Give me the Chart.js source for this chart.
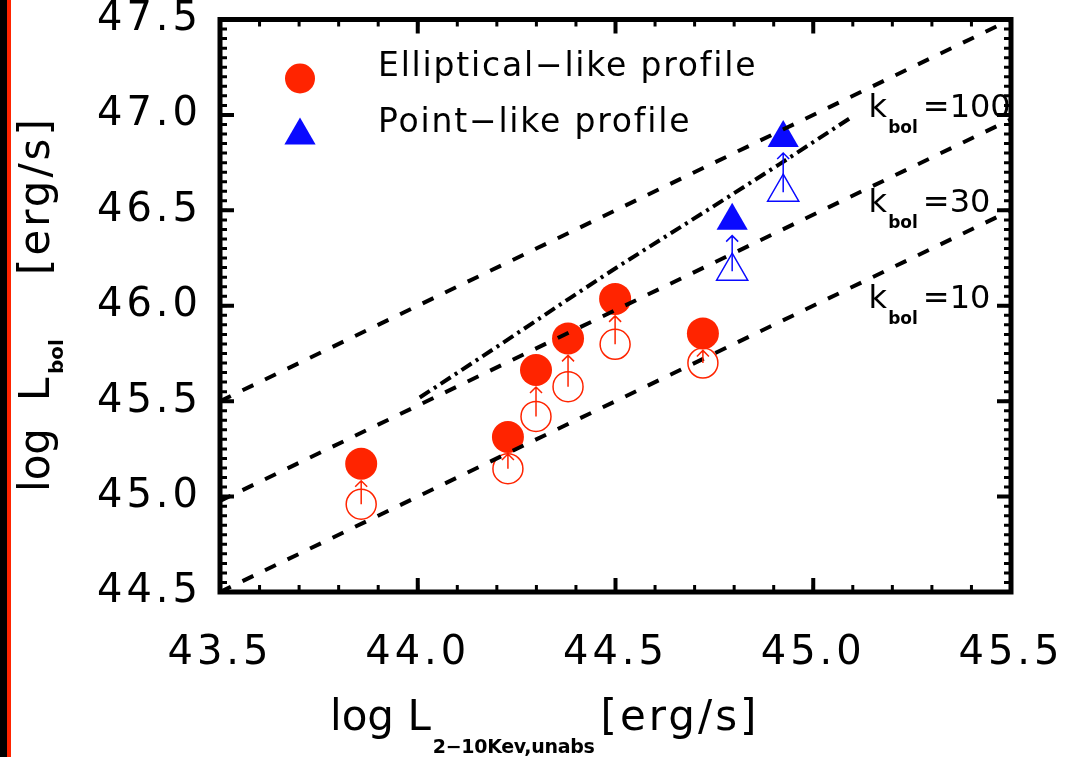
<!DOCTYPE html>
<html>
<head>
<meta charset="utf-8">
<script src="https://cdn.jsdelivr.net/npm/chart.js@4.4.1/dist/chart.umd.min.js"></script>
<style>
  html, body { margin: 0; padding: 0; background: #fff; }
</style>
</head>
<body>
<canvas id="c" width="1066" height="757"></canvas>
<script>
// elliptical-like sources: log L(2-10keV) and log Lbol (filled) / lower value (open)
const ellX = [43.857, 44.228, 44.299, 44.380, 44.499, 44.721];
const ellY = [45.172, 45.312, 45.663, 45.829, 46.036, 45.855];
const ellYLow = [44.960, 45.146, 45.420, 45.576, 45.798, 45.700];

// point-like sources
const ptX = [44.795, 44.924];
const ptY = [46.446, 46.879];
const ptYLow = [46.181, 46.595];

// constant k_bol lines, ends at the x limits
const kbolNames = ["100", "30", "10"];
const kbolLineX = [43.5, 45.5];
const kbol100Y = [45.5, 47.5];
const kbol30Y = [44.977, 46.977];
const kbol10Y = [44.5, 46.5];
const kbolLabelX = 45.14;
const kbolLabelY = [47.0, 46.5, 46.0];

// dash-dot curve
const curveX = [44.005, 44.207, 44.384, 44.510, 44.788, 44.914, 45.098];
const curveY = [45.519, 45.794, 46.039, 46.210, 46.574, 46.741, 46.990];

const xTicks = [43.5, 44.0, 44.5, 45.0, 45.5];
const yTicks = [44.5, 45.0, 45.5, 46.0, 46.5, 47.0, 47.5];
const xMinorStep = 0.1;
const yMinorStep = 0.05;

const red = '#ff2400';
const blue = '#0a0aff';
const FONT = "'DejaVu Sans', sans-serif";

const pts = (xs, ys) => xs.map((x, i) => ({ x: x, y: ys[i] }));

function txt(ctx, s, x, y, size, spacing, weight) {
  ctx.font = (weight || 'normal') + ' ' + size + 'px ' + FONT;
  ctx.letterSpacing = (spacing || 0) + 'px';
  ctx.fillText(s, x, y);
  return ctx.measureText(s).width;
}

function arrowUp(ctx, x, yFrom, yTip, color) {
  ctx.strokeStyle = color;
  ctx.lineWidth = 1.5;
  ctx.beginPath();
  ctx.moveTo(x, yFrom);
  ctx.lineTo(x, yTip);
  ctx.moveTo(x - 6, yTip + 6);
  ctx.lineTo(x, yTip);
  ctx.lineTo(x + 6, yTip + 6);
  ctx.stroke();
}

function noPad(s) {
  s.paddingLeft = 0; s.paddingRight = 0;
  s.paddingTop = 0; s.paddingBottom = 0;
}

const decor = {
  id: 'decor',
  beforeDraw(chart) {
    const ctx = chart.ctx;
    ctx.save();
    ctx.fillStyle = '#fff';
    ctx.fillRect(0, 0, chart.width, chart.height);
    ctx.fillStyle = '#000';
    ctx.fillRect(0, 0, 7, chart.height);
    ctx.fillStyle = red;
    ctx.fillRect(7, 0, 4, chart.height);
    ctx.restore();
    // wide tick label lettering
    ctx.letterSpacing = '4px';
  },
  afterDatasetsDraw(chart) {
    const ctx = chart.ctx;
    const xs = chart.scales.x, ys = chart.scales.y;
    ctx.save();
    ellX.forEach((v, i) => {
      const px = xs.getPixelForValue(v);
      arrowUp(ctx, px, ys.getPixelForValue(ellYLow[i]), ys.getPixelForValue(ellY[i]) + 17, red);
    });
    ptX.forEach((v, i) => {
      const px = xs.getPixelForValue(v);
      arrowUp(ctx, px, ys.getPixelForValue(ptYLow[i]), ys.getPixelForValue(ptY[i]) + 15, blue);
    });
    ctx.restore();
  },
  afterDraw(chart) {
    const ctx = chart.ctx;
    const a = chart.chartArea;
    const xs = chart.scales.x, ys = chart.scales.y;
    ctx.save();
    ctx.strokeStyle = '#000';

    // inward ticks on all four sides
    ctx.lineWidth = 3;
    ctx.beginPath();
    for (let i = 0; i <= 20; i++) {
      const px = xs.getPixelForValue(43.5 + i * xMinorStep);
      ctx.moveTo(px, a.bottom); ctx.lineTo(px, a.bottom - 7);
      ctx.moveTo(px, a.top); ctx.lineTo(px, a.top + 7);
    }
    for (let i = 0; i <= 60; i++) {
      const py = ys.getPixelForValue(44.5 + i * yMinorStep);
      ctx.moveTo(a.left, py); ctx.lineTo(a.left + 7, py);
      ctx.moveTo(a.right, py); ctx.lineTo(a.right - 7, py);
    }
    ctx.stroke();
    ctx.lineWidth = 4;
    ctx.beginPath();
    xTicks.forEach(v => {
      const px = xs.getPixelForValue(v);
      ctx.moveTo(px, a.bottom); ctx.lineTo(px, a.bottom - 14);
      ctx.moveTo(px, a.top); ctx.lineTo(px, a.top + 14);
    });
    yTicks.forEach(v => {
      const py = ys.getPixelForValue(v);
      ctx.moveTo(a.left, py); ctx.lineTo(a.left + 14, py);
      ctx.moveTo(a.right, py); ctx.lineTo(a.right - 14, py);
    });
    ctx.stroke();
    ctx.lineWidth = 5;
    ctx.strokeRect(a.left, a.top, a.right - a.left, a.bottom - a.top);

    // legend
    ctx.fillStyle = red;
    ctx.beginPath();
    ctx.arc(a.left + 80, a.top + 59, 15, 0, Math.PI * 2);
    ctx.fill();
    ctx.fillStyle = blue;
    ctx.beginPath();
    const tx = a.left + 80, ty = a.top + 116;
    ctx.moveTo(tx, ty - 18);
    ctx.lineTo(tx + 15.6, ty + 9);
    ctx.lineTo(tx - 15.6, ty + 9);
    ctx.closePath();
    ctx.fill();
    ctx.fillStyle = '#000';
    ctx.textBaseline = 'alphabetic';
    ctx.textAlign = 'left';
    txt(ctx, 'Elliptical\u2212like profile', a.left + 158, a.top + 56, 33, 1.8);
    txt(ctx, 'Point\u2212like profile', a.left + 158, a.top + 112, 33, 1.8);

    // k_bol labels
    const kx = xs.getPixelForValue(kbolLabelX);
    kbolNames.forEach((k, i) => {
      const by = ys.getPixelForValue(kbolLabelY[i]) + 2;
      const w = txt(ctx, 'k', kx, by, 32, 0);
      const ws = txt(ctx, 'bol', kx + w + 1, by + 16, 17, 0, 'bold');
      txt(ctx, '=' + k, kx + w + ws + 6, by, 32, 0);
    });

    // x title
    let cx = 330;
    cx += txt(ctx, 'log L', cx, 730, 42, 0);
    cx += txt(ctx, '2\u221210Kev,unabs', cx + 2, 753, 19, -0.3, 'bold') + 8;
    txt(ctx, '[erg/s]', cx, 730, 42, 3);

    // y title, rotated
    ctx.translate(49, 492);
    ctx.rotate(-Math.PI / 2);
    txt(ctx, 'log', 0, 0, 42, 0);
    txt(ctx, 'L', 91, 0, 42, 0);
    txt(ctx, 'bol', 118, 14, 20, 0, 'bold');
    txt(ctx, '[erg/s]', 217, 0, 42, 3);
    ctx.restore();
  }
};

new Chart(document.getElementById('c'), {
  type: 'scatter',
  data: {
    datasets: [
      { data: pts(kbolLineX, kbol100Y), showLine: true, borderColor: '#000', borderWidth: 4, borderDash: [12, 13], pointRadius: 0 },
      { data: pts(kbolLineX, kbol30Y), showLine: true, borderColor: '#000', borderWidth: 4, borderDash: [12, 13], pointRadius: 0 },
      { data: pts(kbolLineX, kbol10Y), showLine: true, borderColor: '#000', borderWidth: 4, borderDash: [12, 13], pointRadius: 0 },
      { data: pts(curveX, curveY), showLine: true, borderColor: '#000', borderWidth: 4, borderDash: [12, 5, 3, 5], pointRadius: 0 },
      { data: pts(ellX, ellYLow), pointStyle: 'circle', pointRadius: 15, pointBackgroundColor: 'rgba(0,0,0,0)', pointBorderColor: red, pointBorderWidth: 1.5 },
      { data: pts(ellX, ellY), pointStyle: 'circle', pointRadius: 16, pointBackgroundColor: red, pointBorderColor: red, pointBorderWidth: 0 },
      { data: pts(ptX, ptYLow), pointStyle: 'triangle', pointRadius: 18, pointBackgroundColor: 'rgba(0,0,0,0)', pointBorderColor: blue, pointBorderWidth: 1.5 },
      { data: pts(ptX, ptY), pointStyle: 'triangle', pointRadius: 18, pointBackgroundColor: blue, pointBorderColor: blue, pointBorderWidth: 0 }
    ]
  },
  options: {
    responsive: false,
    animation: false,
    layout: { padding: { left: 0, right: 55, top: 12, bottom: 0 } },
    plugins: { legend: { display: false }, tooltip: { enabled: false } },
    scales: {
      x: {
        type: 'linear', min: 43.5, max: 45.5,
        afterFit: s => { s.height = 165; noPad(s); },
        afterBuildTicks: s => { s.ticks = xTicks.map(v => ({ value: v })); },
        grid: { display: false }, border: { display: false },
        ticks: { color: '#000', font: { family: FONT, size: 40 }, padding: 30, maxRotation: 0, autoSkip: false, callback: v => v.toFixed(1) }
      },
      y: {
        type: 'linear', min: 44.5, max: 47.5,
        afterFit: s => { s.width = 220; noPad(s); },
        afterBuildTicks: s => { s.ticks = yTicks.map(v => ({ value: v })); },
        grid: { display: false }, border: { display: false },
        ticks: { color: '#000', font: { family: FONT, size: 40 }, padding: 10, autoSkip: false, callback: v => v.toFixed(1) }
      }
    }
  },
  plugins: [decor]
});
</script>
</body>
</html>
